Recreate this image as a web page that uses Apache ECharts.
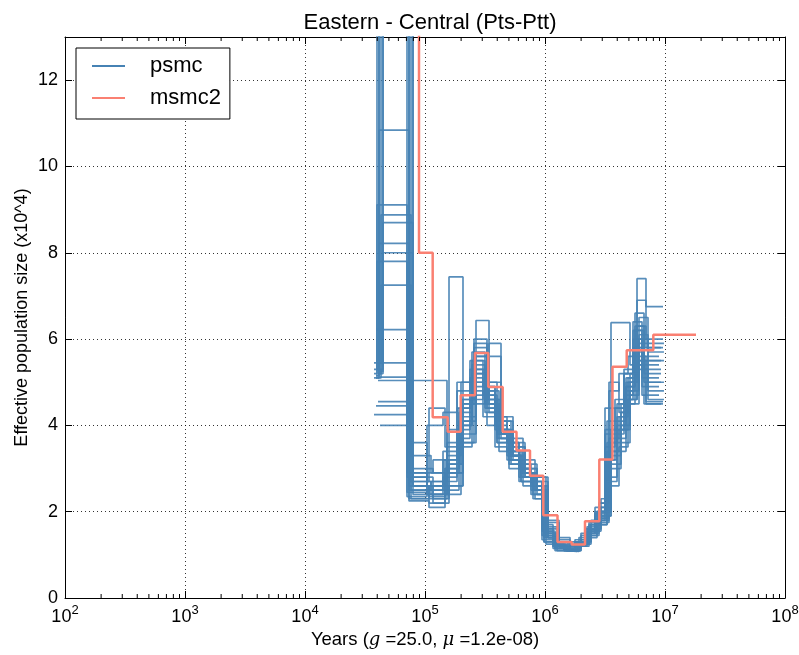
<!DOCTYPE html>
<html>
<head>
<meta charset="utf-8">
<script src="https://cdn.jsdelivr.net/npm/echarts@6/dist/echarts.min.js"></script>
<style>
  html, body { margin: 0; padding: 0; background: #fff; }
  #chart { width: 799px; height: 655px; }
</style>
</head>
<body>
<div id="chart"></div>
<script>
// Interval boundaries (years) of the psmc runs; each bootstrap has a slightly different time scaling.
const gridA = [37580, 39810, 70800, 103900, 141300, 184800, 237100, 304400, 383200, 482400, 607300, 764600, 944100, 1166000, 1440000, 1778000, 2155000, 2611000, 3162000, 3832000, 4555000, 5413000, 6432000, 8913000];
const gridB = [39050, 41370, 73560, 108000, 146800, 192000, 246400, 316300, 398200, 501300, 631100, 794500, 981000, 1212000, 1496000, 1848000, 2239000, 2713000, 3286000, 3982000, 4733000, 5625000, 6684000, 9261000];
const gridC = [40580, 42990, 76440, 112200, 152500, 199500, 256100, 328600, 413700, 520900, 655800, 825600, 1019000, 1259000, 1555000, 1920000, 2327000, 2819000, 3415000, 4137000, 4918000, 5845000, 6945000, 9623000];
const gridD = [42170, 44670, 79430, 116600, 158500, 207300, 266100, 341500, 429900, 541300, 681400, 857900, 1059000, 1308000, 1616000, 1995000, 2418000, 2929000, 3548000, 4299000, 5110000, 6073000, 7217000, 9800000];

// Which time grid each psmc run uses
const psmcGrid = ['B','A','C','D','B','A','C','D','B','D','A','C','B','A','D','C','B','A','D','C','B','D'];

// Effective population size (x10^4) per interval, one row per psmc run
const psmcNe = [
  [5.1, 20, 2.6, 2.5, 3.0, 4.3, 5.4, 4.6, 3.9, 3.4, 2.9, 2.6, 1.5, 1.2, 1.15, 1.3, 1.6, 2.0, 3.6, 4.2, 5.0, 6.2, 5.5],
  [5.3, 25, 2.8, 2.4, 2.8, 3.9, 5.0, 4.9, 4.1, 3.6, 3.1, 2.7, 1.7, 1.25, 1.1, 1.2, 1.5, 1.8, 3.2, 3.9, 4.7, 5.8, 5.1],
  [5.45, 18, 2.5, 2.7, 3.3, 4.6, 5.8, 4.4, 3.7, 3.2, 2.8, 2.5, 1.4, 1.15, 1.1, 1.25, 1.7, 2.2, 4.8, 5.2, 5.6, 6.9, 6.0],
  [5.2, 30, 2.4, 2.2, 2.6, 3.6, 4.9, 5.9, 4.2, 3.5, 3.0, 2.4, 1.6, 1.3, 1.2, 1.35, 1.55, 1.9, 3.0, 3.6, 4.5, 5.5, 4.6],
  [5.15, 10.84, 2.7, 4.4, 3.5, 4.0, 5.2, 4.3, 3.6, 3.0, 2.7, 2.3, 1.3, 1.15, 1.1, 1.25, 1.4, 1.7, 3.4, 4.1, 4.9, 6.3, 5.8],
  [5.1, 9.11, 2.9, 2.6, 2.7, 3.7, 4.6, 4.8, 4.0, 3.3, 2.8, 2.5, 1.45, 1.2, 1.12, 1.28, 1.6, 2.1, 3.8, 4.4, 5.2, 6.0, 4.9],
  [5.2, 8.88, 2.3, 2.3, 3.9, 5.0, 5.6, 4.0, 3.4, 3.1, 2.6, 2.3, 1.25, 1.1, 1.08, 1.2, 1.45, 1.75, 2.6, 3.5, 4.6, 5.6, 4.5],
  [5.3, 8.7, 3.0, 2.9, 2.9, 4.1, 6.43, 5.0, 3.8, 3.3, 2.9, 2.7, 1.8, 1.35, 1.25, 1.5, 1.8, 2.3, 6.38, 6.38, 5.4, 5.9, 5.7],
  [5.1, 8.22, 2.5, 2.1, 3.2, 4.4, 5.5, 4.7, 3.7, 3.2, 2.8, 2.5, 1.55, 1.25, 1.15, 1.3, 1.65, 2.0, 4.1, 4.5, 5.1, 6.6, 5.3],
  [5.45, 8.0, 2.6, 2.6, 7.44, 4.2, 5.3, 4.5, 3.9, 3.5, 3.0, 2.6, 1.4, 1.2, 1.1, 1.3, 1.7, 2.1, 3.3, 4.0, 4.8, 6.1, 5.0],
  [5.2, 7.8, 2.35, 2.5, 3.4, 4.8, 5.1, 4.2, 3.5, 3.2, 2.7, 2.4, 1.35, 1.15, 1.1, 1.22, 1.5, 1.9, 3.5, 3.8, 4.6, 5.4, 4.7],
  [5.1, 7.25, 2.7, 2.4, 3.1, 4.5, 6.0, 4.8, 4.1, 3.7, 3.2, 2.8, 1.65, 1.3, 1.2, 1.4, 1.75, 2.2, 5.0, 4.3, 5.0, 7.4, 6.75],
  [6.22, 6.22, 2.3, 2.6, 2.9, 4.0, 5.7, 4.4, 3.8, 3.3, 2.9, 2.6, 1.5, 1.2, 1.12, 1.28, 1.55, 1.85, 2.8, 3.7, 4.9, 5.7, 5.2],
  [5.45, 5.45, 2.45, 4.0, 4.3, 5.0, 5.5, 4.9, 4.2, 3.6, 3.0, 2.6, 1.6, 1.25, 1.15, 1.35, 1.6, 1.95, 3.9, 4.4, 5.3, 6.4, 5.6],
  [5.12, 5.12, 2.8, 2.3, 2.6, 3.8, 4.7, 5.6, 4.1, 3.6, 3.1, 2.8, 1.75, 1.4, 1.3, 1.45, 1.7, 2.0, 3.1, 3.9, 4.7, 5.3, 4.8],
  [4.55, 4.55, 3.3, 2.9, 3.6, 4.7, 5.9, 4.6, 3.9, 3.4, 2.9, 2.5, 1.45, 1.2, 1.1, 1.25, 1.5, 1.8, 3.7, 4.2, 5.1, 6.3, 5.8],
  [4.45, 4.45, 2.6, 2.35, 3.0, 4.1, 5.0, 4.5, 3.6, 3.1, 2.7, 2.5, 1.4, 1.15, 1.1, 1.25, 1.5, 1.8, 3.2, 4.0, 4.8, 5.8, 5.0],
  [4.25, 4.25, 3.6, 2.7, 3.2, 4.4, 5.3, 4.7, 3.9, 3.4, 3.0, 2.7, 1.55, 1.2, 1.15, 1.3, 1.6, 2.0, 4.4, 4.6, 5.2, 6.2, 5.4],
  [4.0, 4.0, 2.9, 3.2, 2.9, 4.6, 5.2, 4.3, 3.7, 3.2, 2.8, 2.5, 1.5, 1.25, 1.15, 1.3, 1.6, 1.9, 3.6, 4.3, 5.0, 6.0, 5.5],
  [5.04, 5.04, 5.04, 5.04, 2.4, 3.6, 4.8, 4.5, 3.8, 3.3, 2.9, 2.6, 1.5, 1.2, 1.1, 1.3, 1.55, 1.85, 3.4, 3.9, 4.6, 5.5, 4.55],
  [5.3, 22, 2.25, 2.2, 2.5, 3.5, 4.5, 5.0, 3.8, 3.3, 2.8, 2.4, 1.3, 1.1, 1.08, 1.2, 1.45, 1.7, 2.7, 3.4, 4.5, 5.4, 4.5],
  [5.25, 16, 2.6, 2.4, 3.1, 4.5, 5.6, 4.6, 3.8, 3.3, 2.8, 2.5, 1.4, 1.18, 1.1, 1.25, 1.6, 2.0, 3.9, 4.5, 5.2, 6.5, 5.9]
];

// msmc2 estimate: interval start times (years) and Ne (x10^4)
const msmcTime = [68130, 89130, 115900, 154600, 198400, 261000, 336900, 444100, 578800, 749900, 967900, 1271000, 1669000, 2154000, 2835000, 3652000, 4797000, 7990000, 18130000];
const msmcNe   = [20, 8.0, 4.19, 3.85, 4.70, 5.68, 4.89, 3.85, 3.42, 2.83, 1.92, 1.30, 1.24, 1.78, 3.21, 5.36, 5.74, 6.10, 6.10];

// Axis ticks
const xTickExponents = [2, 3, 4, 5, 6, 7, 8];
const yTicks = [0, 2, 4, 6, 8, 10, 12];

const FONT = 'Liberation Sans, Arial, sans-serif';
const grids = { A: gridA, B: gridB, C: gridC, D: gridD };

const series = [];
psmcNe.forEach((ne, k) => {
  const t = grids[psmcGrid[k]];
  const pts = ne.map((v, i) => [t[i], v]);
  pts.push([t[ne.length], ne[ne.length - 1]]);
  series.push({
    type: 'line', name: 'psmc', data: pts, step: 'end', symbol: 'none',
    lineStyle: { color: '#4682b4', width: 1.7, opacity: 0.9 },
    itemStyle: { color: '#4682b4' },
    z: 2, silent: true, animation: false
  });
});

series.push({
  type: 'line', name: 'msmc2', step: 'end', symbol: 'none',
  data: msmcTime.map((t, i) => [t, msmcNe[i]]),
  lineStyle: { color: '#fa8072', width: 2.5 },
  itemStyle: { color: '#fa8072' },
  z: 3, silent: true, animation: false
});

// Minor ticks of the log axis (2..9 x 10^n), drawn inward on bottom and top edges
const minorTicks = [];
for (let e = xTickExponents[0]; e < xTickExponents[xTickExponents.length - 1]; e++) {
  for (let m = 2; m <= 9; m++) minorTicks.push([m * Math.pow(10, e), 0]);
}
series.push({
  type: 'custom', silent: true, animation: false, clip: false, z: 5,
  data: minorTicks,
  encode: { x: 0, y: 1 },
  renderItem: function (params, api) {
    const pb = api.coord([api.value(0), 0]);
    const pt = api.coord([api.value(0), 13]);
    return {
      type: 'group',
      children: [
        { type: 'line', shape: { x1: pb[0], y1: pb[1], x2: pb[0], y2: pb[1] - 4 }, style: { stroke: '#000', lineWidth: 1 } },
        { type: 'line', shape: { x1: pt[0], y1: pt[1], x2: pt[0], y2: pt[1] + 4 }, style: { stroke: '#000', lineWidth: 1 } }
      ]
    };
  }
});

const axisLineStyle = { show: true, onZero: false, lineStyle: { color: '#000', width: 1 } };
const gridDots = { show: true, lineStyle: { color: '#000', width: 1, type: [1, 3], opacity: 0.8 } };

const option = {
  animation: false,
  backgroundColor: '#fff',
  title: {
    text: 'Eastern - Central (Pts-Ptt)',
    left: 425, top: 7, textAlign: 'center',
    textStyle: { fontFamily: FONT, fontSize: 22, fontWeight: 'normal', color: '#000' }
  },
  legend: {
    data: ['psmc', 'msmc2'],
    orient: 'vertical', left: 76, top: 48,
    padding: [6, 9, 9, 16],
    itemWidth: 33, itemHeight: 2, itemGap: 8,
    icon: 'rect',
    borderColor: '#000', borderWidth: 1, borderRadius: 0,
    backgroundColor: '#fff',
    selectedMode: false,
    textStyle: { fontFamily: FONT, fontSize: 22, color: '#000', lineHeight: 24, padding: [0, 0, 0, 20] }
  },
  grid: { left: 65, right: 14, top: 37, bottom: 57, outerBoundsMode: 'none' },
  xAxis: [
    {
      type: 'log', logBase: 10, min: 100, max: 1e8, splitNumber: 6, position: 'bottom',
      axisLine: axisLineStyle,
      axisTick: { inside: true, length: 7, lineStyle: { color: '#000' } },
      minorTick: { show: false },
      splitLine: gridDots,
      axisLabel: {
        margin: 8, color: '#000',
        formatter: function (v) {
          const e = Math.round(Math.log10(v));
          return xTickExponents.indexOf(e) >= 0 ? '{b|10}{s|' + e + '}' : '';
        },
        rich: {
          b: { fontFamily: FONT, fontSize: 18, lineHeight: 20, verticalAlign: 'bottom', color: '#000' },
          s: { fontFamily: FONT, fontSize: 13, lineHeight: 13, padding: [0, 0, 9, 0], verticalAlign: 'bottom', color: '#000' }
        }
      },
      name: '{r|Years (}{i|g}{r| =25.0, }{i|μ}{r| =1.2e-08)}',
      nameLocation: 'middle', nameGap: 30,
      nameTextStyle: {
        rich: {
          r: { fontFamily: FONT, fontSize: 18.5, color: '#000' },
          i: { fontFamily: 'DejaVu Serif, serif', fontStyle: 'italic', fontSize: 18, color: '#000' }
        }
      }
    },
    {
      type: 'log', logBase: 10, min: 100, max: 1e8, splitNumber: 6, position: 'top',
      axisLine: axisLineStyle,
      axisTick: { inside: true, length: 7, lineStyle: { color: '#000' } },
      axisLabel: { show: false }, splitLine: { show: false }
    }
  ],
  yAxis: [
    {
      type: 'value', min: 0, max: 13, interval: 2, position: 'left',
      axisLine: axisLineStyle,
      axisTick: { inside: true, length: 7, lineStyle: { color: '#000' } },
      splitLine: gridDots,
      axisLabel: {
        margin: 7, showMaxLabel: false, color: '#000', fontFamily: FONT, fontSize: 18,
        formatter: function (v) { return yTicks.indexOf(v) >= 0 ? String(v) : ''; }
      },
      name: 'Effective population size (x10^4)',
      nameLocation: 'middle', nameGap: 34, nameRotate: 90, nameMoveOverlap: false,
      nameTextStyle: { fontFamily: FONT, fontSize: 18, color: '#000' }
    },
    {
      type: 'value', min: 0, max: 13, interval: 2, position: 'right',
      axisLine: axisLineStyle,
      axisTick: { inside: true, length: 7, lineStyle: { color: '#000' } },
      axisLabel: { show: false }, splitLine: { show: false }
    }
  ],
  series: series
};

const chart = echarts.init(document.getElementById('chart'), null, { renderer: 'canvas' });
chart.setOption(option);
</script>
</body>
</html>
